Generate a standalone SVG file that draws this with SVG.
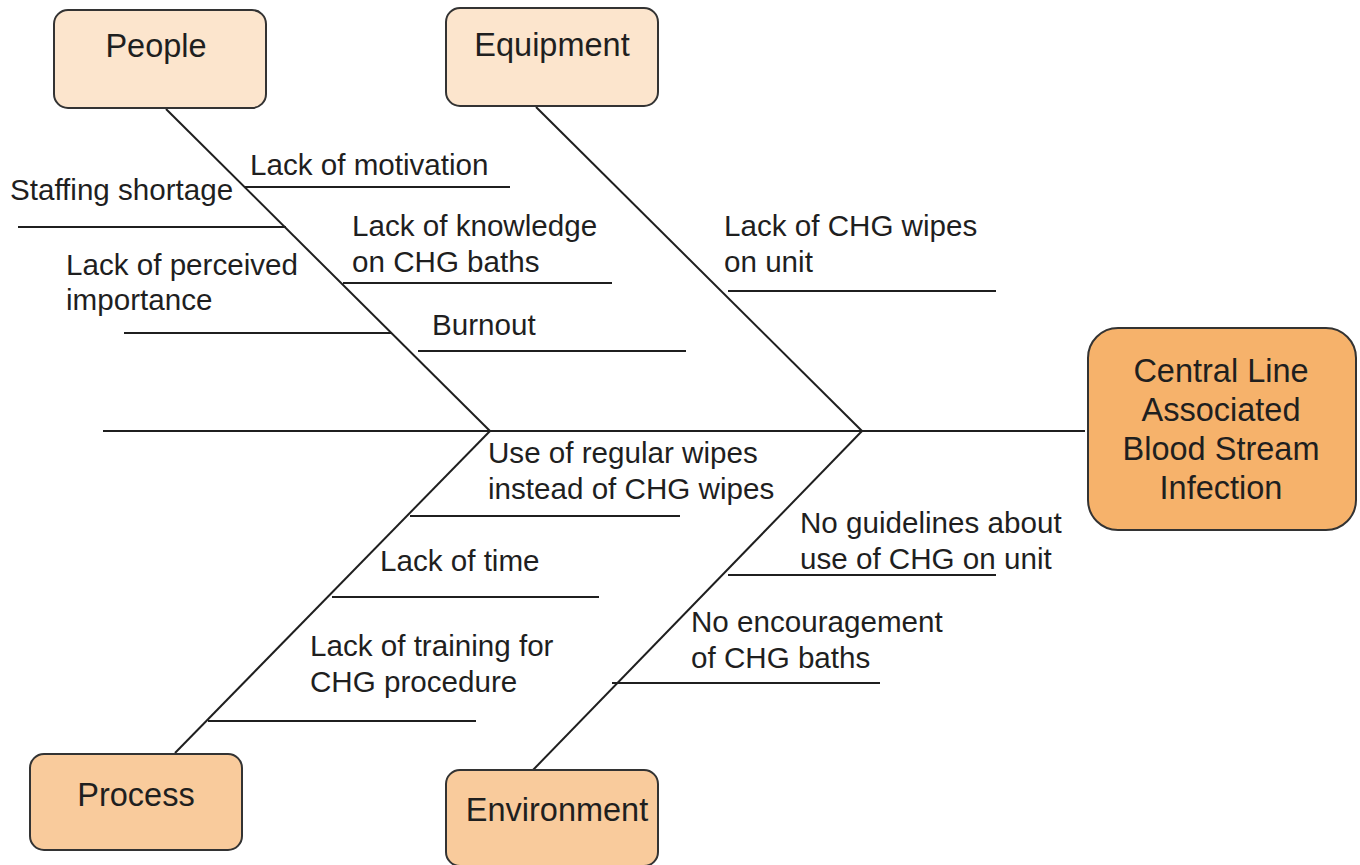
<svg xmlns="http://www.w3.org/2000/svg" width="1360" height="865" viewBox="0 0 1360 865">
  <style>
    .bone { stroke: #1f1f1f; stroke-width: 2; fill: none; stroke-linecap: butt; }
    .box { stroke: #333333; stroke-width: 2; }
    .cat-top { fill: #fce5cd; }
    .cat-bot { fill: #f9cb9c; }
    .effect { fill: #f6b26b; }
    .lbl { font-family: "Liberation Sans", Arial, sans-serif; font-size: 29.6px; fill: #1f1f1f; }
    .title { font-family: "Liberation Sans", Arial, sans-serif; font-size: 32.5px; fill: #1f1f1f; text-anchor: middle; }
  </style>
  <rect width="1360" height="865" fill="#ffffff"/>

  <!-- spine, main bones and cause lines -->
  <g id="connectors">
    <line class="bone" x1="103" y1="431" x2="1085" y2="431"/>
    <line class="bone" x1="166" y1="109" x2="490" y2="431"/>
    <line class="bone" x1="536" y1="107" x2="862" y2="431"/>
    <line class="bone" x1="175" y1="753" x2="490" y2="431"/>
    <line class="bone" x1="533" y1="770" x2="862" y2="431"/>

    <line class="bone" x1="244" y1="187" x2="510" y2="187"/>
    <line class="bone" x1="18" y1="227" x2="286" y2="227"/>
    <line class="bone" x1="343" y1="283" x2="612" y2="283"/>
    <line class="bone" x1="124" y1="333" x2="392" y2="333"/>
    <line class="bone" x1="418" y1="351" x2="686" y2="351"/>
    <line class="bone" x1="728" y1="291" x2="996" y2="291"/>

    <line class="bone" x1="410" y1="516" x2="680" y2="516"/>
    <line class="bone" x1="332" y1="597" x2="599" y2="597"/>
    <line class="bone" x1="208" y1="721" x2="476" y2="721"/>
    <line class="bone" x1="728" y1="575" x2="996" y2="575"/>
    <line class="bone" x1="612" y1="683" x2="880" y2="683"/>
  </g>

  <!-- cause labels -->
  <g id="causes">
    <text class="lbl" x="250" y="175">Lack of motivation</text>
    <text class="lbl" x="10" y="200">Staffing shortage</text>
    <text class="lbl" x="352" y="236">Lack of knowledge</text>
    <text class="lbl" x="352" y="272">on CHG baths</text>
    <text class="lbl" x="66" y="275">Lack of perceived</text>
    <text class="lbl" x="66" y="310">importance</text>
    <text class="lbl" x="432" y="335">Burnout</text>
    <text class="lbl" x="724" y="236">Lack of CHG wipes</text>
    <text class="lbl" x="724" y="272">on unit</text>
    <text class="lbl" x="488" y="463">Use of regular wipes</text>
    <text class="lbl" x="488" y="499">instead of CHG wipes</text>
    <text class="lbl" x="380" y="571">Lack of time</text>
    <text class="lbl" x="310" y="656">Lack of training for</text>
    <text class="lbl" x="310" y="692">CHG procedure</text>
    <text class="lbl" x="800" y="533">No guidelines about</text>
    <text class="lbl" x="800" y="569">use of CHG on unit</text>
    <text class="lbl" x="691" y="632">No encouragement</text>
    <text class="lbl" x="691" y="668">of CHG baths</text>
  </g>

  <!-- category boxes -->
  <g id="people">
    <rect class="box cat-top" x="54" y="10" width="212" height="98" rx="14"/>
    <text class="title" x="156" y="57">People</text>
  </g>
  <g id="equipment">
    <rect class="box cat-top" x="446" y="8" width="212" height="98" rx="14"/>
    <text class="title" x="552" y="56">Equipment</text>
  </g>
  <g id="process">
    <rect class="box cat-bot" x="30" y="754" width="212" height="96" rx="14"/>
    <text class="title" x="136" y="806">Process</text>
  </g>
  <g id="environment">
    <rect class="box cat-bot" x="446" y="770" width="212" height="96" rx="14"/>
    <text class="title" x="557" y="821">Environment</text>
  </g>

  <!-- effect -->
  <g id="effect">
    <rect class="box effect" x="1088" y="328" width="268" height="202" rx="30"/>
    <text class="title" x="1221" y="382">Central Line</text>
    <text class="title" x="1221" y="421">Associated</text>
    <text class="title" x="1221" y="460">Blood Stream</text>
    <text class="title" x="1221" y="499">Infection</text>
  </g>
</svg>
